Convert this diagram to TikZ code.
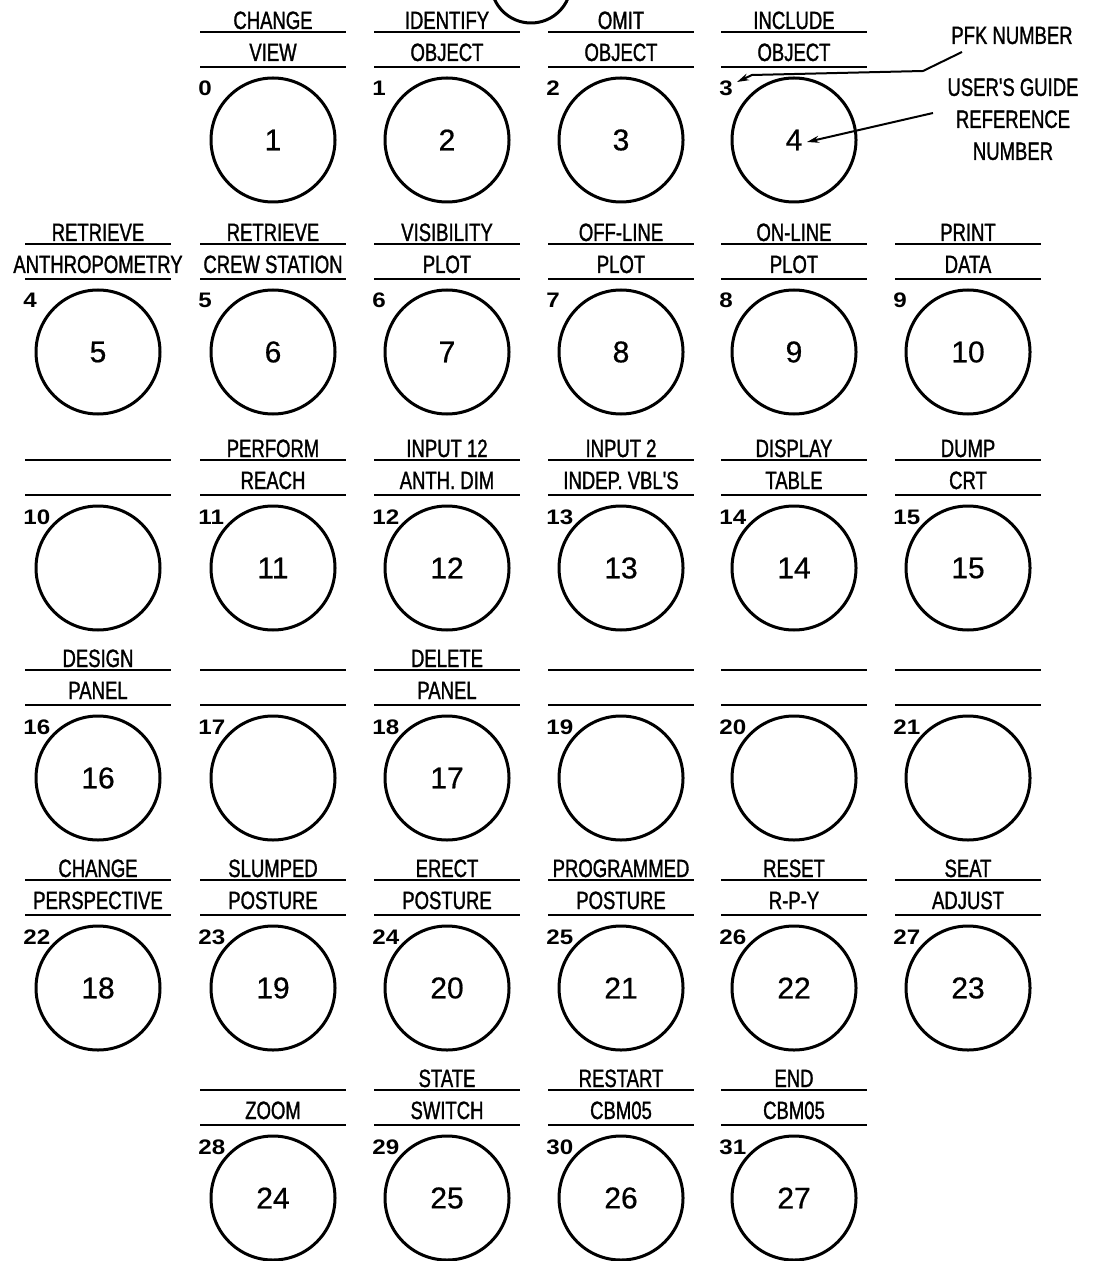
\documentclass[tikz,border=0pt]{standalone}
\usepackage{fontspec}
\setmainfont{Liberation Sans}
\newfontfamily\lblfont{Liberation Sans}[FakeStretch=0.74,FakeBold=1.2]
\newfontfamily\numfont{Liberation Sans}[FakeStretch=1.15]
\newfontfamily\btnfont{Liberation Sans}[FakeBold=0.6]
\usetikzlibrary{arrows.meta}
\begin{document}
\begin{tikzpicture}[x=0.5pt,y=-0.5pt,
  btn/.style={circle,draw,line width=1.5pt,minimum size=62pt,inner sep=0pt,
    font=\btnfont\fontsize{15}{15}\selectfont},
  rule/.style={line width=1.4pt},
  lbl/.style={inner sep=0pt,anchor=base,font=\lblfont\fontsize{12.5}{12.5}\selectfont},
  pfkn/.style={inner sep=0pt,anchor=base west,font=\numfont\bfseries\fontsize{10.5}{10.5}\selectfont},
  note/.style={line width=1pt,-{Stealth[length=6pt,width=3.5pt]}}]
\useasboundingbox (0,0) rectangle (1094,1261);
\fill[white] (0,0) rectangle (1094,1261);
% partially visible button at the top
\node[circle,draw,line width=1.5pt,minimum size=40pt,inner sep=0pt] (topbtn) at (531,-17) {};
\foreach \x/\y/\up/\lo/\pfk/\ref in {
  273/140/CHANGE/VIEW/0/1,
  447/140/IDENTIFY/OBJECT/1/2,
  621/140/OMIT/OBJECT/2/3,
  794/140/INCLUDE/OBJECT/3/4,
  98/352/RETRIEVE/ANTHROPOMETRY/4/5,
  273/352/RETRIEVE/{CREW STATION}/5/6,
  447/352/VISIBILITY/PLOT/6/7,
  621/352/OFF-LINE/PLOT/7/8,
  794/352/ON-LINE/PLOT/8/9,
  968/352/PRINT/DATA/9/10,
  98/568/{}/{}/10/{},
  273/568/PERFORM/REACH/11/11,
  447/568/{INPUT 12}/{ANTH. DIM}/12/12,
  621/568/{INPUT 2}/{INDEP. VBL'S}/13/13,
  794/568/DISPLAY/TABLE/14/14,
  968/568/DUMP/CRT/15/15,
  98/778/DESIGN/PANEL/16/16,
  273/778/{}/{}/17/{},
  447/778/DELETE/PANEL/18/17,
  621/778/{}/{}/19/{},
  794/778/{}/{}/20/{},
  968/778/{}/{}/21/{},
  98/988/CHANGE/PERSPECTIVE/22/18,
  273/988/SLUMPED/POSTURE/23/19,
  447/988/ERECT/POSTURE/24/20,
  621/988/PROGRAMMED/POSTURE/25/21,
  794/988/RESET/R-P-Y/26/22,
  968/988/SEAT/ADJUST/27/23,
  273/1198/{}/ZOOM/28/24,
  447/1198/STATE/SWITCH/29/25,
  621/1198/RESTART/CBM05/30/26,
  794/1198/END/CBM05/31/27}{
  \draw[rule] (\x-73,\y-108) -- (\x+73,\y-108);
  \draw[rule] (\x-73,\y-73) -- (\x+73,\y-73);
  \node[lbl] (u\pfk) at (\x,\y-111) {\up};
  \node[lbl] (l\pfk) at (\x,\y-79) {\lo};
  \node[btn] (b\pfk) at (\x,\y) {\ref};
  \node[pfkn] (p\pfk) at (\x-75,\y-44) {\pfk};
}
% annotations
\node[lbl] (pfknote) at (1012,44) {PFK NUMBER};
\node[lbl,align=center,anchor=north] (refnote) at (1013,78)
  {USER'S GUIDE\\[3.5pt]REFERENCE\\[3.5pt]NUMBER};
\coordinate (pfkstart) at (962,52);
\coordinate (pfktip) at (737,82);
\coordinate (refstart) at (933,113);
\coordinate (reftip) at (807,142);
\draw[note] (pfkstart) -- (923,71) -- (752,75) -- (pfktip);
\draw[note] (refstart) -- (reftip);
\end{tikzpicture}
\end{document}
